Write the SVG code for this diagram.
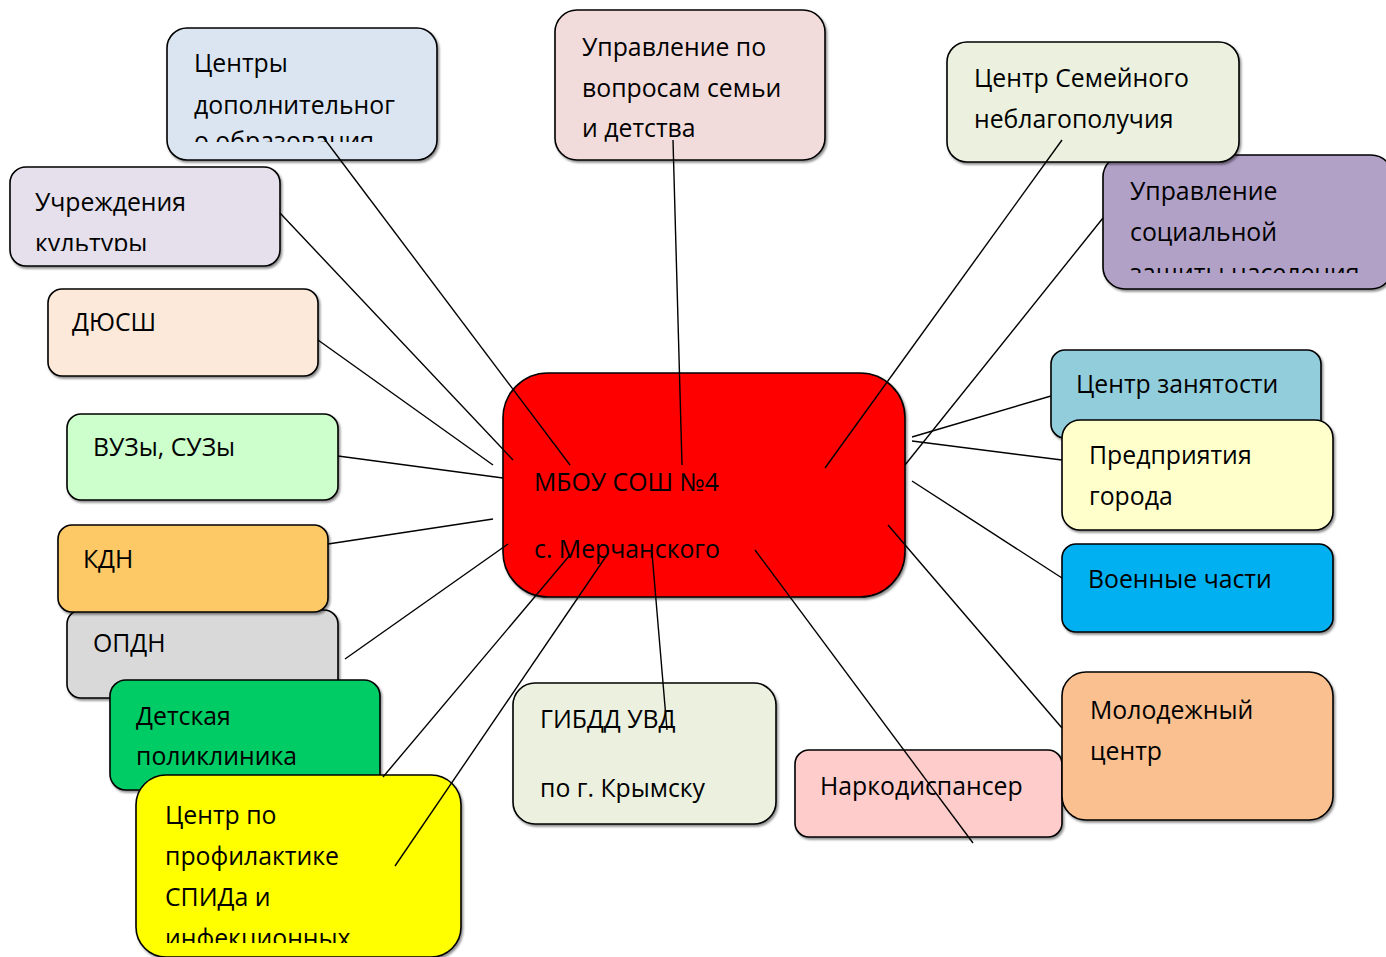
<svg xmlns="http://www.w3.org/2000/svg" width="1386" height="957" viewBox="0 0 1386 957">
<style>
.b{stroke:#000;stroke-width:1.6}
.t{font-family:"Open Sans","Noto Sans","DejaVu Sans",sans-serif;font-size:24.8px;fill:#000}
.c line{stroke:#000;stroke-width:1.4}
</style>
<defs>
<filter id="sh" x="-5%" y="-5%" width="110%" height="115%"><feDropShadow dx="1.5" dy="2" stdDeviation="0.8" flood-color="#000" flood-opacity="0.45"/></filter>
<clipPath id="cp1"><rect x="167" y="28" width="270" height="114"/></clipPath>
<clipPath id="cp4"><rect x="1103" y="155" width="283" height="118"/></clipPath>
<clipPath id="cp5"><rect x="10" y="167" width="270" height="84"/></clipPath>
<clipPath id="cp11"><rect x="136" y="775" width="325" height="168"/></clipPath>
</defs>
<rect width="1386" height="957" fill="#fff"/>

<g id="n-uszn"><rect class="b" filter="url(#sh)" x="1103" y="155" width="290" height="134" rx="22" fill="#b2a1c7"/>
<g clip-path="url(#cp4)"><text class="t" x="1130" y="200">Управление</text><text class="t" x="1130" y="241">социальной</text><text class="t" x="1130" y="282">защиты населения</text></g></g>

<g id="n-csn"><rect class="b" filter="url(#sh)" x="947" y="42" width="292" height="120" rx="20" fill="#ebf1de"/>
<text class="t" x="974" y="87">Центр Семейного</text><text class="t" x="974" y="128">неблагополучия</text></g>

<g id="n-cdo"><rect class="b" filter="url(#sh)" x="167" y="28" width="270" height="132" rx="20" fill="#dbe5f1"/>
<g clip-path="url(#cp1)"><text class="t" x="194" y="72">Центры</text><text class="t" x="194" y="114">дополнительног</text><text class="t" x="194" y="150">о образования</text></g></g>

<g id="n-usd"><rect class="b" filter="url(#sh)" x="555" y="10" width="270" height="150" rx="22" fill="#f2dcdb"/>
<text class="t" x="582" y="56">Управление по</text><text class="t" x="582" y="97">вопросам семьи</text><text class="t" x="582" y="137">и детства</text></g>

<g id="n-uk"><rect class="b" filter="url(#sh)" x="10" y="167" width="270" height="99" rx="16" fill="#e5e0ec"/>
<g clip-path="url(#cp5)"><text class="t" x="35" y="211">Учреждения</text><text class="t" x="35" y="252">культуры</text></g></g>

<g id="n-dyussh"><rect class="b" filter="url(#sh)" x="48" y="289" width="270" height="87" rx="14" fill="#fde9d9"/>
<text class="t" x="72" y="331">ДЮСШ</text></g>

<g id="n-vuz"><rect class="b" filter="url(#sh)" x="67" y="414" width="271" height="86" rx="14" fill="#ccffcc"/>
<text class="t" x="93" y="456">ВУЗы, СУЗы</text></g>

<g id="n-opdn"><rect class="b" filter="url(#sh)" x="67" y="610" width="271" height="88" rx="14" fill="#d9d9d9"/>
<text class="t" x="93" y="652">ОПДН</text></g>

<g id="n-kdn"><rect class="b" filter="url(#sh)" x="58" y="525" width="270" height="87" rx="14" fill="#fdc866"/>
<text class="t" x="83" y="568">КДН</text></g>

<g id="n-dp"><rect class="b" filter="url(#sh)" x="110" y="680" width="270" height="110" rx="16" fill="#00cc66"/>
<text class="t" x="136" y="725">Детская</text><text class="t" x="136" y="765">поликлиника</text></g>

<g id="n-spid"><rect class="b" filter="url(#sh)" x="136" y="775" width="325" height="182" rx="30" fill="#ffff00"/>
<g clip-path="url(#cp11)"><text class="t" x="165" y="824">Центр по</text><text class="t" x="165" y="865">профилактике</text><text class="t" x="165" y="906">СПИДа и</text><text class="t" x="165" y="947">инфекционных</text></g></g>

<g id="n-gibdd"><rect class="b" filter="url(#sh)" x="513" y="683" width="263" height="141" rx="22" fill="#ebf1de"/>
<text class="t" x="540" y="728">ГИБДД УВД</text><text class="t" x="540" y="797">по г. Крымску</text></g>

<g id="n-nark"><rect class="b" filter="url(#sh)" x="795" y="750" width="267" height="87" rx="14" fill="#ffcccc"/>
<text class="t" x="820" y="795">Наркодиспансер</text></g>

<g id="n-mol"><rect class="b" filter="url(#sh)" x="1062" y="672" width="271" height="148" rx="24" fill="#fac090"/>
<text class="t" x="1090" y="719">Молодежный</text><text class="t" x="1090" y="760">центр</text></g>

<g id="n-vch"><rect class="b" filter="url(#sh)" x="1062" y="544" width="271" height="88" rx="14" fill="#00b0f0"/>
<text class="t" x="1088" y="588">Военные части</text></g>

<g id="n-cz"><rect class="b" filter="url(#sh)" x="1051" y="350" width="270" height="88" rx="14" fill="#92cddc"/>
<text class="t" x="1076" y="393">Центр занятости</text></g>

<g id="n-pg"><rect class="b" filter="url(#sh)" x="1062" y="420" width="271" height="110" rx="18" fill="#ffffcc"/>
<text class="t" x="1089" y="464">Предприятия</text><text class="t" x="1089" y="505">города</text></g>

<g id="n-center"><rect class="b" filter="url(#sh)" x="503" y="373" width="402" height="224" rx="45" fill="#ff0000"/>
<text class="t" x="534" y="491">МБОУ СОШ №4</text><text class="t" x="534" y="558">с. Мерчанского</text></g>

<g class="c" id="connectors">
<line x1="323" y1="137" x2="570" y2="465"/>
<line x1="673" y1="140" x2="682" y2="465"/>
<line x1="1062" y1="140" x2="825" y2="468"/>
<line x1="1103" y1="218" x2="905" y2="465"/>
<line x1="280" y1="213" x2="513" y2="460"/>
<line x1="318" y1="340" x2="493" y2="465"/>
<line x1="338" y1="456" x2="503" y2="478"/>
<line x1="328" y1="544" x2="493" y2="519"/>
<line x1="345" y1="659" x2="508" y2="544"/>
<line x1="383" y1="777" x2="570" y2="555"/>
<line x1="395" y1="866" x2="607" y2="555"/>
<line x1="667" y1="730" x2="652" y2="553"/>
<line x1="973" y1="843" x2="755" y2="550"/>
<line x1="1062" y1="728" x2="888" y2="525"/>
<line x1="1062" y1="578" x2="912" y2="481"/>
<line x1="1062" y1="460" x2="912" y2="441"/>
<line x1="1051" y1="396" x2="912" y2="437"/>
</g>
</svg>
